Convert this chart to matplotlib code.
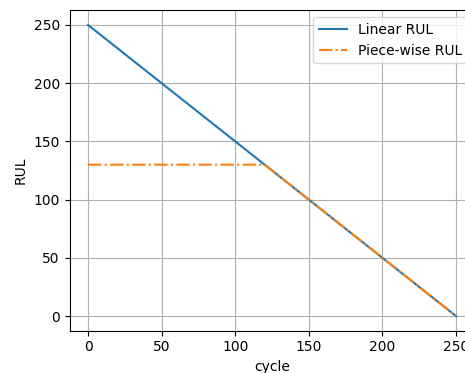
import matplotlib
matplotlib.use("Agg")
import matplotlib.pyplot as plt

# RUL curves (break points)
linear_cycle = [0, 250]
linear_rul = [250, 0]
piecewise_cycle = [0, 120, 250]
piecewise_rul = [130, 130, 0]

fig = plt.figure(figsize=(4.65, 3.73), dpi=100)
# axes run past the right edge, as in the cropped original
ax = fig.add_axes([0.1497, 0.1137, 0.8705, 0.8584])

ax.plot(linear_cycle, linear_rul, color='tab:blue', label='Linear RUL')
ax.plot(piecewise_cycle, piecewise_rul, color='tab:orange', linestyle='-.', label='Piece-wise RUL')

ax.set_xlabel('cycle')
ax.set_ylabel('RUL')
ax.grid(True)
ax.legend(loc='upper right')

fig.savefig('out.png', dpi=100)
